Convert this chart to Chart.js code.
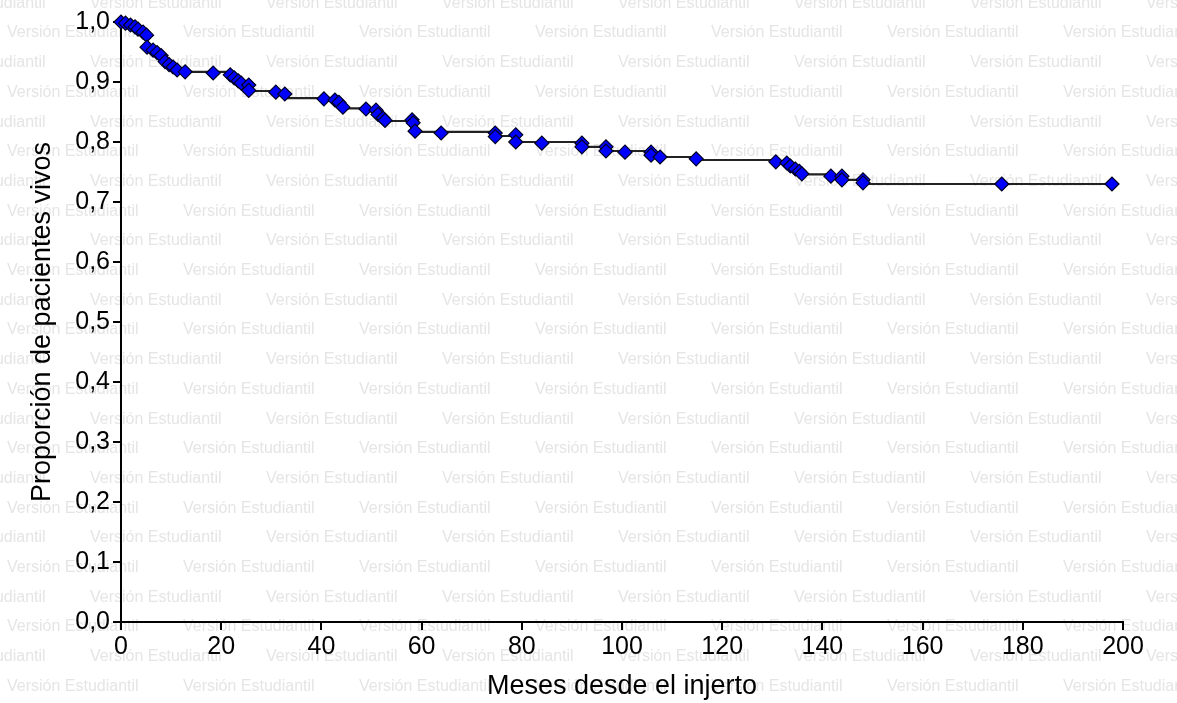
<!DOCTYPE html>
<html>
<head>
<meta charset="utf-8">
<script src="https://cdn.jsdelivr.net/npm/chart.js@4/dist/chart.umd.min.js"></script>
<style>
  body { margin: 0; background: #fff; }
  #stage { display: block; }
</style>
</head>
<body>
<canvas id="stage" width="1177" height="703"></canvas>
<script>
// curva de supervivencia (tiempos de caida y proporcion despues de cada caida)
var stepTimes = [0, 0.8, 1.8, 2.8, 3.6, 4.4, 5.0, 5.2, 6.2, 7.2, 8.0, 8.6, 9.4, 10.4, 11.2, 12.4,
  21.8, 22.6, 23.4, 24.2, 25.5, 32.8, 42.6, 43.4, 44.2, 51.2, 52.2, 52.8, 58.2, 58.7,
  74.7, 78.8, 92.0, 96.8, 105.8, 107.6, 114.8, 131.5, 133.4, 134.4, 135.4, 136.2,
  141.7, 143.9, 148.1, 197.8];
var stepSurv = [1.0, 0.997, 0.993, 0.99, 0.985, 0.98, 0.975, 0.958, 0.953, 0.948, 0.943, 0.933, 0.928, 0.923, 0.92, 0.917,
  0.912, 0.907, 0.902, 0.897, 0.885, 0.873, 0.87, 0.865, 0.856, 0.845, 0.84, 0.835, 0.83, 0.817,
  0.81, 0.8, 0.792, 0.785, 0.779, 0.775, 0.77, 0.765, 0.76, 0.755, 0.75, 0.746,
  0.743, 0.737, 0.73, 0.73];

// marcas (rombos)
var censorTimes = [0, 0.9, 1.9, 2.8, 3.4, 4.4, 5.1, 5.2, 6.4, 7.2, 8.0, 8.8, 9.6, 10.4, 11.2, 12.8,
  18.4, 21.8, 22.6, 23.4, 24.0, 25.5, 25.5, 30.9, 32.7, 40.5, 42.7, 43.5, 44.3, 48.9,
  50.9, 51.3, 52.3, 52.7, 58.1, 58.3, 58.7, 63.9, 74.7, 74.7, 78.8, 78.8, 84.0, 92.0,
  92.0, 96.8, 96.8, 100.6, 105.8, 105.8, 107.6, 114.8, 130.7, 132.9, 133.6, 134.6,
  135.4, 135.9, 141.7, 143.9, 143.9, 148.1, 148.1, 175.8, 197.8];
var censorSurv = [1.0, 0.998, 0.995, 0.992, 0.988, 0.983, 0.978, 0.958, 0.953, 0.949, 0.944, 0.934, 0.929, 0.925, 0.92, 0.917,
  0.915, 0.912, 0.907, 0.902, 0.898, 0.895, 0.886, 0.883, 0.88, 0.872, 0.87, 0.866, 0.858, 0.855,
  0.853, 0.846, 0.84, 0.836, 0.837, 0.832, 0.818, 0.815, 0.815, 0.809, 0.812, 0.8, 0.798, 0.798,
  0.792, 0.792, 0.785, 0.783, 0.783, 0.778, 0.775, 0.772, 0.767, 0.765, 0.76, 0.755,
  0.751, 0.747, 0.743, 0.743, 0.737, 0.737, 0.732, 0.73, 0.73];

var xTicks = [0, 20, 40, 60, 80, 100, 120, 140, 160, 180, 200];
var yTicks = [0, 0.1, 0.2, 0.3, 0.4, 0.5, 0.6, 0.7, 0.8, 0.9, 1.0];

var watermark = 'Versión Estudiantil';

var fondo = {
  id: 'fondo',
  beforeDraw: function(chart) {
    var ctx = chart.ctx;
    ctx.save();
    ctx.fillStyle = '#fff';
    ctx.fillRect(0, 0, chart.width, chart.height);
    ctx.font = '16px "Liberation Sans", Arial, sans-serif';
    ctx.fillStyle = '#e5e5e5';
    ctx.textBaseline = 'middle';
    for (var k = 0; k < 24; k++) {
      var y = 3.3 + 29.7 * k;
      var x0 = (k % 2 == 1) ? 7 - 176 : 90 - 176;
      for (var x = x0; x < chart.width; x += 176) {
        ctx.fillText(watermark, x, y);
      }
    }
    ctx.restore();
  }
};

var fuente = '"Liberation Sans", Arial, sans-serif';

var myChart = new Chart(document.getElementById('stage').getContext('2d'), {
  type: 'line',
  data: {
    datasets: [
      {
        label: 'marcas',
        data: censorTimes.map(function(t, i) { return {x: t, y: censorSurv[i]}; }),
        showLine: false,
        pointStyle: 'rectRot',
        pointRadius: 7,
        pointBackgroundColor: '#0000ff',
        pointBorderColor: '#000022',
        pointBorderWidth: 1.2,
        clip: false
      },
      {
        label: 'supervivencia',
        data: stepTimes.map(function(t, i) { return {x: t, y: stepSurv[i]}; }),
        stepped: 'before',
        borderColor: '#222',
        borderWidth: 2.2,
        pointRadius: 0,
        fill: false,
        clip: false
      }
    ]
  },
  options: {
    responsive: false,
    animation: false,
    layout: { padding: { top: 22, right: 54, left: 0, bottom: 0 } },
    plugins: { legend: { display: false }, tooltip: { enabled: false } },
    scales: {
      x: {
        type: 'linear',
        min: 0, max: 200,
        afterBuildTicks: function(scale) { scale.ticks = xTicks.map(function(v) { return {value: v}; }); },
        afterFit: function(scale) { scale.height = 81; },
        ticks: { color: '#000', font: { family: fuente, size: 25 }, padding: 2, maxRotation: 0 },
        grid: { drawOnChartArea: false, drawTicks: true, tickLength: 8, color: '#000', lineWidth: 2 },
        border: { color: '#000', width: 2 },
        title: { display: true, text: 'Meses desde el injerto', color: '#000',
                 font: { family: fuente, size: 27 }, padding: { top: 0, bottom: 0 } }
      },
      y: {
        type: 'linear',
        min: 0, max: 1,
        afterBuildTicks: function(scale) { scale.ticks = yTicks.map(function(v) { return {value: v}; }); },
        afterFit: function(scale) { scale.width = 121; },
        ticks: { color: '#000', font: { family: fuente, size: 25 }, padding: 3,
                 callback: function(v) { return v.toFixed(1).replace('.', ','); } },
        grid: { drawOnChartArea: false, drawTicks: true, tickLength: 8, color: '#000', lineWidth: 2 },
        border: { color: '#000', width: 2 },
        title: { display: true, text: 'Proporción de pacientes vivos', color: '#000',
                 font: { family: fuente, size: 27 }, padding: { top: 26, bottom: 0 } }
      }
    }
  },
  plugins: [fondo]
});
</script>
</body>
</html>
